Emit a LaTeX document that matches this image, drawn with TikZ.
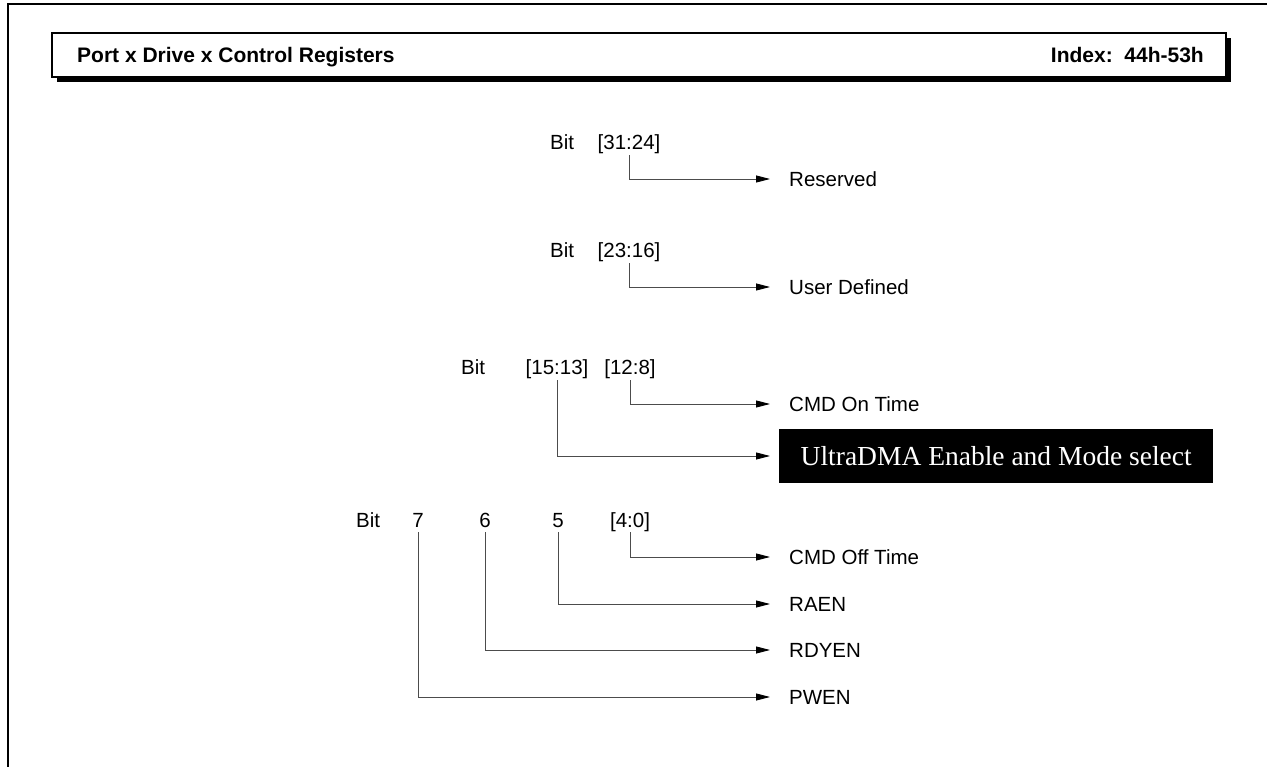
\documentclass[tikz,border=0pt]{standalone}
\usepackage{fontspec}
\setmainfont{Liberation Sans}
\newfontfamily\udmafont{Liberation Serif}
\usetikzlibrary{arrows.meta,shadows}

\begin{document}
\begin{tikzpicture}[
    x=1pt, y=-1pt,
    >={Triangle[length=14pt,width=7pt,color=black]},
    every node/.style={font=\fontsize{20.5}{24}\selectfont},
    bitlbl/.style={anchor=base, inner sep=3pt, text depth=0.22em},
    fldlbl/.style={anchor=west, inner sep=0pt},
    conn/.style={->, line width=0.9pt, draw=black!70, shorten >=19pt},
    hdrbox/.style={
        rectangle,
        draw=black,
        line width=2pt,
        fill=white,
        minimum width=1174pt,
        minimum height=44pt,
        drop shadow={shadow xshift=5pt, shadow yshift=-5pt, fill=black, opacity=1}
    },
    hdrtxt/.style={font=\fontsize{21}{24}\selectfont\bfseries, inner sep=0pt},
    udmabox/.style={
        rectangle,
        fill=black,
        text=white,
        anchor=west,
        minimum width=434pt,
        minimum height=54pt,
        inner sep=0pt,
        font=\udmafont\fontsize{27.5}{30}\selectfont
    }
]
\useasboundingbox (0,0) rectangle (1267,767);

% ==================== Frame and title bar ====================
\draw[line width=2.2pt] (1267,4) -- (8,4) -- (8,767);
\node[hdrbox] (hdr) at (639,55) {};
\node[hdrtxt, anchor=base west] (title) at (77,63) {Port x Drive x Control Registers};
\node[hdrtxt, anchor=base east] (index) at (1204,63) {Index:\ \ 44h-53h};

% ==================== Bits 31:24 ====================
\node[bitlbl, anchor=base west] (bita) at (547,150) {Bit};
\node[bitlbl] (f3124) at (629,150) {[31:24]};
\node[fldlbl] (rsvd) at (789,179) {Reserved};
\draw[conn] (f3124.south) |- (rsvd.west);

% ==================== Bits 23:16 ====================
\node[bitlbl, anchor=base west] (bitb) at (547,258) {Bit};
\node[bitlbl] (f2316) at (629,258) {[23:16]};
\node[fldlbl] (usrdef) at (789,287) {User Defined};
\draw[conn] (f2316.south) |- (usrdef.west);

% ==================== Bits 15:8 ====================
\node[bitlbl, anchor=base west] (bitc) at (458,375) {Bit};
\node[bitlbl] (f1513) at (557,375) {[15:13]};
\node[bitlbl] (f128) at (630,375) {[12:8]};
\node[fldlbl] (cmdon) at (789,404) {CMD On Time};
\node[udmabox] (udma) at (779,456) {UltraDMA Enable and Mode select};
\draw[conn] (f128.south) |- (cmdon.west);
\draw[conn, shorten >=9pt] (f1513.south) |- (udma.west);

% ==================== Bits 7:0 ====================
\node[bitlbl, anchor=base west] (bitd) at (353,527) {Bit};
\node[bitlbl] (f7) at (418,527) {7};
\node[bitlbl] (f6) at (485,527) {6};
\node[bitlbl] (f5) at (558,527) {5};
\node[bitlbl] (f40) at (630,527) {[4:0]};
\node[fldlbl] (cmdoff) at (789,557) {CMD Off Time};
\node[fldlbl] (raen) at (789,604) {RAEN};
\node[fldlbl] (rdyen) at (789,650) {RDYEN};
\node[fldlbl] (pwen) at (789,697) {PWEN};

\foreach \f/\l in {f40/cmdoff,f5/raen,f6/rdyen,f7/pwen} {
  \draw[conn] (\f.south) |- (\l.west);
}

\end{tikzpicture}
\end{document}
